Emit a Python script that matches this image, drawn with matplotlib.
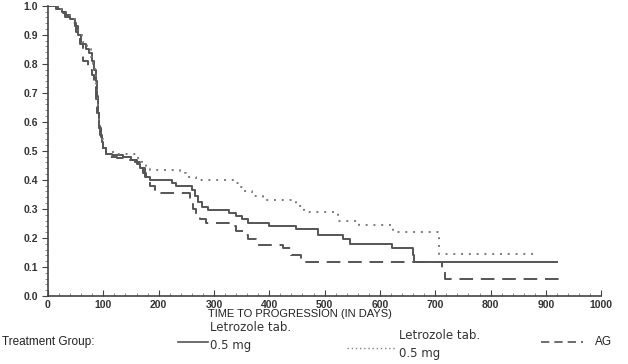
import matplotlib
matplotlib.use("Agg")
import matplotlib.pyplot as plt
from matplotlib.ticker import MultipleLocator
from matplotlib.lines import Line2D

# Kaplan-Meier style step data (time in days, proportion without progression)
solid_t = [0, 18, 25, 33, 40, 48, 55, 60, 68, 75, 80, 84, 86, 88, 90, 92, 94, 97, 100, 104,
           115, 135, 150, 160, 166, 172, 178, 184, 225, 232, 260, 266, 272, 278, 290, 328,
           340, 350, 362, 400, 449, 488, 534, 546, 621, 659, 661, 920]
solid_s = [1.0, 0.99, 0.98, 0.97, 0.955, 0.93, 0.90, 0.87, 0.85, 0.836, 0.81, 0.78, 0.74, 0.69,
           0.63, 0.585, 0.555, 0.53, 0.51, 0.49, 0.485, 0.48, 0.47, 0.455, 0.44, 0.425, 0.41,
           0.40, 0.39, 0.38, 0.365, 0.345, 0.325, 0.305, 0.295, 0.285, 0.275, 0.265, 0.25,
           0.24, 0.23, 0.21, 0.195, 0.18, 0.165, 0.14, 0.118, 0.118]

dotted_t = [0, 18, 30, 40, 48, 55, 62, 70, 78, 82, 85, 87, 89, 91, 93, 96, 100, 104, 120, 157,
            163, 170, 177, 184, 238, 250, 268, 334, 345, 355, 368, 388, 449, 462, 525, 563,
            623, 706, 884]
dotted_s = [1.0, 0.99, 0.975, 0.955, 0.93, 0.905, 0.875, 0.85, 0.825, 0.80, 0.76, 0.72, 0.67,
            0.62, 0.58, 0.54, 0.515, 0.495, 0.49, 0.49, 0.475, 0.46, 0.445, 0.435, 0.425, 0.41,
            0.40, 0.39, 0.375, 0.36, 0.345, 0.33, 0.31, 0.29, 0.26, 0.243, 0.22, 0.146, 0.146]

dashed_t = [0, 15, 22, 30, 40, 50, 58, 64, 72, 79, 84, 87, 89, 92, 95, 99, 104, 112, 125, 140,
            158, 166, 175, 184, 193, 256, 262, 268, 274, 286, 328, 340, 352, 362, 376, 424,
            440, 457, 713, 718, 933]
dashed_s = [1.0, 0.99, 0.975, 0.96, 0.94, 0.91, 0.87, 0.81, 0.78, 0.76, 0.72, 0.68, 0.63, 0.58,
            0.54, 0.51, 0.49, 0.48, 0.475, 0.47, 0.46, 0.44, 0.41, 0.38, 0.355, 0.33, 0.30,
            0.28, 0.265, 0.25, 0.24, 0.225, 0.21, 0.195, 0.175, 0.165, 0.14, 0.117, 0.09,
            0.06, 0.06]

plt.rcParams['font.family'] = ['Liberation Sans', 'DejaVu Sans']
plt.rcParams['font.weight'] = 'bold'  # tick labels are bold in the original

fig = plt.figure(figsize=(6.28, 3.64), dpi=100)
ax = fig.add_axes([0.0764, 0.187, 0.881, 0.797])

col = '#555555'
ax.plot(solid_t, solid_s, drawstyle='steps-post', color=col, lw=1.4)
ax.plot(dotted_t, dotted_s, drawstyle='steps-post', color='#7a7a7a', lw=1.4, dashes=(1, 3))
ax.plot(dashed_t, dashed_s, drawstyle='steps-post', color=col, lw=1.4, dashes=(7, 4))

ax.set_xlim(0, 1000)
ax.set_ylim(0, 1.0)
ax.xaxis.set_major_locator(MultipleLocator(100))
ax.xaxis.set_minor_locator(MultipleLocator(20))
ax.yaxis.set_major_locator(MultipleLocator(0.1))
ax.yaxis.set_minor_locator(MultipleLocator(0.02))
ax.yaxis.set_major_formatter(plt.FormatStrFormatter('%.1f'))

for s in ['top', 'right']:
    ax.spines[s].set_visible(False)
for s in ['left', 'bottom']:
    ax.spines[s].set_color('#444444')
    ax.spines[s].set_linewidth(1.2)

ax.tick_params(axis='y', which='major', direction='out', length=4, color='#444444',
               labelsize=7.5, pad=3, labelcolor='#333333')
ax.tick_params(axis='y', which='minor', direction='out', length=2.5, color='#777777')
ax.tick_params(axis='x', which='major', direction='in', length=4, color='#444444',
               labelsize=7.5, pad=3, labelcolor='#333333')
ax.tick_params(axis='x', which='minor', direction='in', length=2.5, color='#777777')

fig.text(0.478, 0.137, 'TIME TO PROGRESSION (IN DAYS)', ha='center', va='center',
         fontsize=8, color='#222222', fontweight='normal')

# legend drawn beneath the axes
fig.text(0.003, 0.06, 'Treatment Group:', ha='left', va='center', fontsize=8.5,
         color='#222222', fontweight='normal')
fig.add_artist(Line2D([0.283, 0.331], [0.06, 0.06], color=col, lw=1.2))
fig.text(0.335, 0.100, 'Letrozole tab.', ha='left', va='center', fontsize=8.5,
         family=['DejaVu Sans'], color='#333333', fontweight='normal')
fig.text(0.335, 0.050, '0.5 mg', ha='left', va='center', fontsize=8.5,
         family=['DejaVu Sans'], color='#333333', fontweight='normal')
fig.add_artist(Line2D([0.553, 0.631], [0.045, 0.045], color='#808080', lw=1.0,
                      dashes=(1, 2)))
fig.text(0.636, 0.078, 'Letrozole tab.', ha='left', va='center', fontsize=8.5,
         family=['DejaVu Sans'], color='#333333', fontweight='normal')
fig.text(0.636, 0.028, '0.5 mg', ha='left', va='center', fontsize=8.5,
         family=['DejaVu Sans'], color='#333333', fontweight='normal')
fig.add_artist(Line2D([0.862, 0.928], [0.06, 0.06], color=col, lw=1.2, dashes=(5, 3)))
fig.text(0.948, 0.06, 'AG', ha='left', va='center', fontsize=8.5, color='#222222',
         fontweight='normal')

fig.savefig('out.png', dpi=100)
